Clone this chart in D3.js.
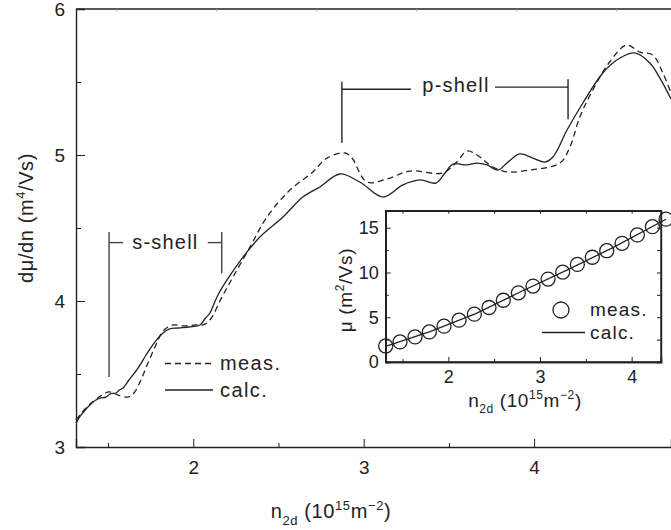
<!DOCTYPE html>
<html>
<head>
<meta charset="utf-8">
<script src="https://cdn.jsdelivr.net/npm/d3@7"></script>
<style>
  body { margin: 0; background: #fff; }
  svg { display: block; font-family: "Liberation Sans", Arial, sans-serif; }
  .axis path, .axis line { stroke: #222; }
  .axis text { fill: #222; font-family: "Liberation Sans", Arial, sans-serif; }
</style>
</head>
<body>
<svg width="671" height="530"></svg>
<script>
// main panel: d mu / dn vs n2d
const nCalc   = [1.312, 1.330, 1.341, 1.360, 1.382, 1.405, 1.429, 1.455, 1.488, 1.515, 1.547, 1.565, 1.588, 1.623, 1.676, 1.723, 1.770, 1.823, 1.858, 1.916, 1.975, 2.039, 2.070, 2.098, 2.125, 2.145, 2.198, 2.292, 2.391, 2.526, 2.643, 2.743, 2.860, 2.977, 3.113, 3.230, 3.330, 3.424, 3.477, 3.524, 3.606, 3.665, 3.723, 3.788, 3.840, 3.916, 3.993, 4.063, 4.110, 4.193, 4.286, 4.403, 4.503, 4.591, 4.679, 4.738, 4.803];
const dmuCalc = [3.164, 3.200, 3.219, 3.245, 3.274, 3.300, 3.322, 3.335, 3.342, 3.365, 3.370, 3.390, 3.404, 3.459, 3.541, 3.630, 3.712, 3.781, 3.808, 3.815, 3.822, 3.836, 3.880, 3.918, 3.990, 4.041, 4.144, 4.301, 4.438, 4.575, 4.712, 4.781, 4.870, 4.815, 4.712, 4.795, 4.829, 4.808, 4.877, 4.938, 4.932, 4.945, 4.932, 4.897, 4.945, 5.007, 4.979, 4.952, 4.986, 5.171, 5.356, 5.562, 5.664, 5.699, 5.630, 5.527, 5.384];

const nMeas   = [1.312, 1.350, 1.388, 1.447, 1.506, 1.558, 1.617, 1.652, 1.693, 1.734, 1.781, 1.823, 1.881, 1.940, 2.016, 2.057, 2.098, 2.168, 2.233, 2.333, 2.432, 2.567, 2.702, 2.784, 2.890, 2.931, 3.019, 3.136, 3.271, 3.464, 3.546, 3.606, 3.665, 3.758, 3.840, 3.975, 4.151, 4.210, 4.268, 4.344, 4.443, 4.543, 4.620, 4.696, 4.755, 4.803];
const dmuMeas = [3.185, 3.240, 3.288, 3.342, 3.377, 3.356, 3.342, 3.370, 3.459, 3.575, 3.699, 3.795, 3.836, 3.829, 3.836, 3.836, 3.870, 4.027, 4.164, 4.370, 4.575, 4.760, 4.884, 4.979, 5.014, 4.979, 4.815, 4.836, 4.890, 4.877, 4.952, 5.027, 5.000, 4.918, 4.884, 4.897, 4.945, 5.055, 5.260, 5.445, 5.637, 5.753, 5.705, 5.685, 5.562, 5.425];

const xMajor = [2, 3, 4];
const xMinor = [1.5, 2.5, 3.5];
const yMajor = [3, 4, 5, 6];
const yMinor = [3.5, 4.5, 5.5];
const topTicks = [1, 2, 3, 4, 5, 6];

// shell brackets: [n left, n right]
const sShell = [1.506, 2.167];
const pShell = [2.872, 4.199];

// inset: mobility vs n2d
const nInset    = [1.317, 1.473, 1.637, 1.793, 1.953, 2.117, 2.284, 2.444, 2.600, 2.764, 2.924, 3.088, 3.248, 3.408, 3.571, 3.728, 3.895, 4.062, 4.226, 4.375];
const muMeas    = [1.79, 2.24, 2.80, 3.36, 4.00, 4.67, 5.34, 6.09, 6.90, 7.73, 8.48, 9.26, 10.04, 10.90, 11.70, 12.43, 13.26, 14.19, 15.12, 15.95];
const nInsetCalc = [1.317, 1.8, 2.3, 2.8, 3.3, 3.8, 4.375];
const muCalc     = [1.75, 3.39, 5.40, 7.90, 10.30, 12.80, 15.95];
const insetXMajor = [2, 3, 4];
const insetXMinor = [1.5, 2.5, 3.5];
const insetYMajor = [0, 5, 10, 15];
const insetYMinor = [2.5, 7.5, 12.5];

const svg = d3.select('svg');
const ink = '#222';

const x = d3.scaleLinear().domain([1.312, 4.803]).range([76, 671]);
const y = d3.scaleLinear().domain([3, 6]).range([447, 9]);
const xTop = d3.scaleLinear().domain([0, 6]).range([16.7, 616.7]);

// axes
svg.append('g').attr('class', 'axis')
    .attr('transform', 'translate(0,447)')
    .call(d3.axisBottom(x).tickValues(xMajor).tickSize(-8).tickPadding(14).tickFormat(d3.format('d')))
    .call(g => g.select('.domain').attr('stroke-width', 1.5))
    .call(g => g.selectAll('text').attr('font-size', 19));
svg.append('g').attr('class', 'axis')
    .attr('transform', 'translate(0,447)')
    .call(d3.axisBottom(x).tickValues(xMinor).tickSize(-4).tickFormat(''))
    .call(g => g.select('.domain').remove());

svg.append('g').attr('class', 'axis')
    .attr('transform', 'translate(76,0)')
    .call(d3.axisLeft(y).tickValues(yMajor).tickSize(-9).tickPadding(11).tickFormat(d3.format('d')))
    .call(g => g.select('.domain').attr('stroke-width', 1.5))
    .call(g => g.selectAll('text').attr('font-size', 19));
svg.append('g').attr('class', 'axis')
    .attr('transform', 'translate(76,0)')
    .call(d3.axisLeft(y).tickValues(yMinor).tickSize(-5).tickFormat(''))
    .call(g => g.select('.domain').remove());

svg.append('line')
    .attr('x1', x(x.domain()[0])).attr('x2', 671)
    .attr('y1', y(6)).attr('y2', y(6))
    .attr('stroke', ink).attr('stroke-width', 1.5);
svg.append('g')
    .selectAll('line').data(topTicks).join('line')
    .attr('x1', d => xTop(d)).attr('x2', d => xTop(d))
    .attr('y1', y(6)).attr('y2', y(6) + 2.5)
    .attr('stroke', '#aaa');

// axis titles
const xt = svg.append('text')
    .attr('x', 331).attr('y', 518)
    .attr('text-anchor', 'middle')
    .attr('font-size', 20).attr('letter-spacing', 0.6).attr('fill', ink);
xt.append('tspan').text('n');
xt.append('tspan').attr('font-size', 13).attr('dy', 7).text('2d');
xt.append('tspan').attr('dy', -7).text(' (10');
xt.append('tspan').attr('font-size', 13).attr('dy', -8).text('15');
xt.append('tspan').attr('dy', 8).text('m');
xt.append('tspan').attr('font-size', 13).attr('dy', -8).text('\u22122');
xt.append('tspan').attr('dy', 8).text(')');

const yt = svg.append('text')
    .attr('transform', 'translate(33,218) rotate(-90)')
    .attr('text-anchor', 'middle')
    .attr('font-size', 20).attr('letter-spacing', 0.6).attr('fill', ink);
yt.append('tspan').text('d\u03bc/dn (m');
yt.append('tspan').attr('font-size', 13).attr('dy', -8).text('4');
yt.append('tspan').attr('dy', 8).text('/Vs)');

// curves
const line = d3.line()
    .x(d => x(d[0])).y(d => y(d[1]))
    .curve(d3.curveCatmullRom.alpha(0.5));

svg.append('path')
    .datum(d3.zip(nMeas, dmuMeas))
    .attr('d', line)
    .attr('fill', 'none').attr('stroke', ink)
    .attr('stroke-width', 1.3).attr('stroke-dasharray', '6,4');

svg.append('path')
    .datum(d3.zip(nCalc, dmuCalc))
    .attr('d', line)
    .attr('fill', 'none').attr('stroke', ink)
    .attr('stroke-width', 1.3);

// s-shell bracket
const br = svg.append('g').attr('stroke', '#444').attr('stroke-width', 1.4).attr('fill', 'none');
br.append('line').attr('x1', x(sShell[0])).attr('x2', x(sShell[0])).attr('y1', y(4.473)).attr('y2', y(3.48));
br.append('line').attr('x1', x(sShell[0])).attr('x2', x(sShell[0]) + 14).attr('y1', y(4.40)).attr('y2', y(4.40));
br.append('line').attr('x1', x(sShell[1]) - 14).attr('x2', x(sShell[1])).attr('y1', y(4.40)).attr('y2', y(4.40));
br.append('line').attr('x1', x(sShell[1])).attr('x2', x(sShell[1])).attr('y1', y(4.473)).attr('y2', y(4.19));
svg.append('text')
    .attr('x', (x(sShell[0]) + x(sShell[1])) / 2).attr('y', y(4.40) + 6)
    .attr('text-anchor', 'middle').attr('font-size', 20).attr('letter-spacing', 1.2).attr('fill', ink)
    .text('s-shell');

// p-shell bracket
const pb = svg.append('g').attr('stroke', ink).attr('stroke-width', 1.4).attr('fill', 'none');
pb.append('line').attr('x1', x(pShell[0])).attr('x2', x(pShell[0])).attr('y1', y(5.502)).attr('y2', y(5.084));
pb.append('line').attr('x1', x(pShell[0])).attr('x2', x(pShell[0]) + 69).attr('y1', y(5.45)).attr('y2', y(5.45));
pb.append('line').attr('x1', x(pShell[1]) - 73).attr('x2', x(pShell[1])).attr('y1', y(5.465)).attr('y2', y(5.465));
pb.append('line').attr('x1', x(pShell[1])).attr('x2', x(pShell[1])).attr('y1', y(5.518)).attr('y2', y(5.245));
svg.append('text')
    .attr('x', 456).attr('y', y(5.45) + 3)
    .attr('text-anchor', 'middle').attr('font-size', 20).attr('letter-spacing', 1.2).attr('fill', ink)
    .text('p-shell');

// main legend
const lg = svg.append('g').attr('font-size', 20).attr('letter-spacing', 1.4).attr('fill', ink);
lg.append('line').attr('x1', 165).attr('x2', 213).attr('y1', 363.5).attr('y2', 363.5)
    .attr('stroke', ink).attr('stroke-width', 1.3).attr('stroke-dasharray', '6,4');
lg.append('text').attr('x', 220).attr('y', 370).text('meas.');
lg.append('line').attr('x1', 165).attr('x2', 213).attr('y1', 390).attr('y2', 390)
    .attr('stroke', ink).attr('stroke-width', 1.3);
lg.append('text').attr('x', 220).attr('y', 396.5).text('calc.');

// inset
const ix = d3.scaleLinear().domain([1.317, 4.32]).range([385.7, 661]);
const iy = d3.scaleLinear().domain([0, 16.9]).range([362, 210.7]);

svg.append('rect')
    .attr('x', ix.range()[0]).attr('y', iy.range()[1])
    .attr('width', ix.range()[1] - ix.range()[0])
    .attr('height', iy.range()[0] - iy.range()[1])
    .attr('fill', '#fff').attr('stroke', ink).attr('stroke-width', 1.4);

svg.append('g').attr('class', 'axis').attr('transform', `translate(0,${iy.range()[0]})`)
    .call(d3.axisBottom(ix).tickValues(insetXMajor).tickSize(-5).tickPadding(8).tickFormat(d3.format('d')))
    .call(g => g.selectAll('text').attr('font-size', 18));
svg.append('g').attr('class', 'axis').attr('transform', `translate(0,${iy.range()[0]})`)
    .call(d3.axisBottom(ix).tickValues(insetXMinor).tickSize(-3).tickFormat(''));
svg.append('g').attr('class', 'axis').attr('transform', `translate(0,${iy.range()[1]})`)
    .call(d3.axisTop(ix).tickValues(insetXMajor.concat(insetXMinor)).tickSize(-3).tickFormat(''));
svg.append('g').attr('class', 'axis').attr('transform', `translate(${ix.range()[0]},0)`)
    .call(d3.axisLeft(iy).tickValues(insetYMajor).tickSize(-5).tickPadding(7).tickFormat(d3.format('d')))
    .call(g => g.selectAll('text').attr('font-size', 18));
svg.append('g').attr('class', 'axis').attr('transform', `translate(${ix.range()[0]},0)`)
    .call(d3.axisLeft(iy).tickValues(insetYMinor).tickSize(-3).tickFormat(''));
svg.append('g').attr('class', 'axis').attr('transform', `translate(${ix.range()[1]},0)`)
    .call(d3.axisRight(iy).tickValues(insetYMajor.concat(insetYMinor)).tickSize(-4).tickFormat(''));
svg.selectAll('.axis .domain').attr('stroke-width', 1.4);

const ixt = svg.append('text')
    .attr('x', 525).attr('y', 406.5)
    .attr('text-anchor', 'middle').attr('font-size', 19).attr('letter-spacing', 0.6).attr('fill', ink);
ixt.append('tspan').text('n');
ixt.append('tspan').attr('font-size', 12).attr('dy', 6).text('2d');
ixt.append('tspan').attr('dy', -6).text(' (10');
ixt.append('tspan').attr('font-size', 12).attr('dy', -8).text('15');
ixt.append('tspan').attr('dy', 8).text('m');
ixt.append('tspan').attr('font-size', 12).attr('dy', -8).text('\u22122');
ixt.append('tspan').attr('dy', 8).text(')');

const iyt = svg.append('text')
    .attr('transform', 'translate(352,290) rotate(-90)')
    .attr('text-anchor', 'middle').attr('font-size', 19).attr('letter-spacing', 0.6).attr('fill', ink);
iyt.append('tspan').text('\u03bc (m');
iyt.append('tspan').attr('font-size', 12).attr('dy', -8).text('2');
iyt.append('tspan').attr('dy', 8).text('/Vs)');

svg.append('path')
    .datum(d3.zip(nInsetCalc, muCalc))
    .attr('d', d3.line().x(d => ix(d[0])).y(d => iy(d[1])))
    .attr('fill', 'none').attr('stroke', ink).attr('stroke-width', 1.3);

svg.append('g')
    .selectAll('circle').data(d3.zip(nInset, muMeas)).join('circle')
    .attr('cx', d => ix(d[0])).attr('cy', d => iy(d[1]))
    .attr('r', 7).attr('fill', 'none')
    .attr('stroke', ink).attr('stroke-width', 1.3);

// inset legend
const il = svg.append('g').attr('font-size', 19).attr('letter-spacing', 1.2).attr('fill', ink);
il.append('circle').attr('cx', 561).attr('cy', 310).attr('r', 8)
    .attr('fill', 'none').attr('stroke', ink).attr('stroke-width', 1.3);
il.append('text').attr('x', 590).attr('y', 316).text('meas.');
il.append('line').attr('x1', 542).attr('x2', 585).attr('y1', 332.5).attr('y2', 332.5)
    .attr('stroke', ink).attr('stroke-width', 1.3);
il.append('text').attr('x', 590).attr('y', 338.5).text('calc.');
</script>
</body>
</html>
